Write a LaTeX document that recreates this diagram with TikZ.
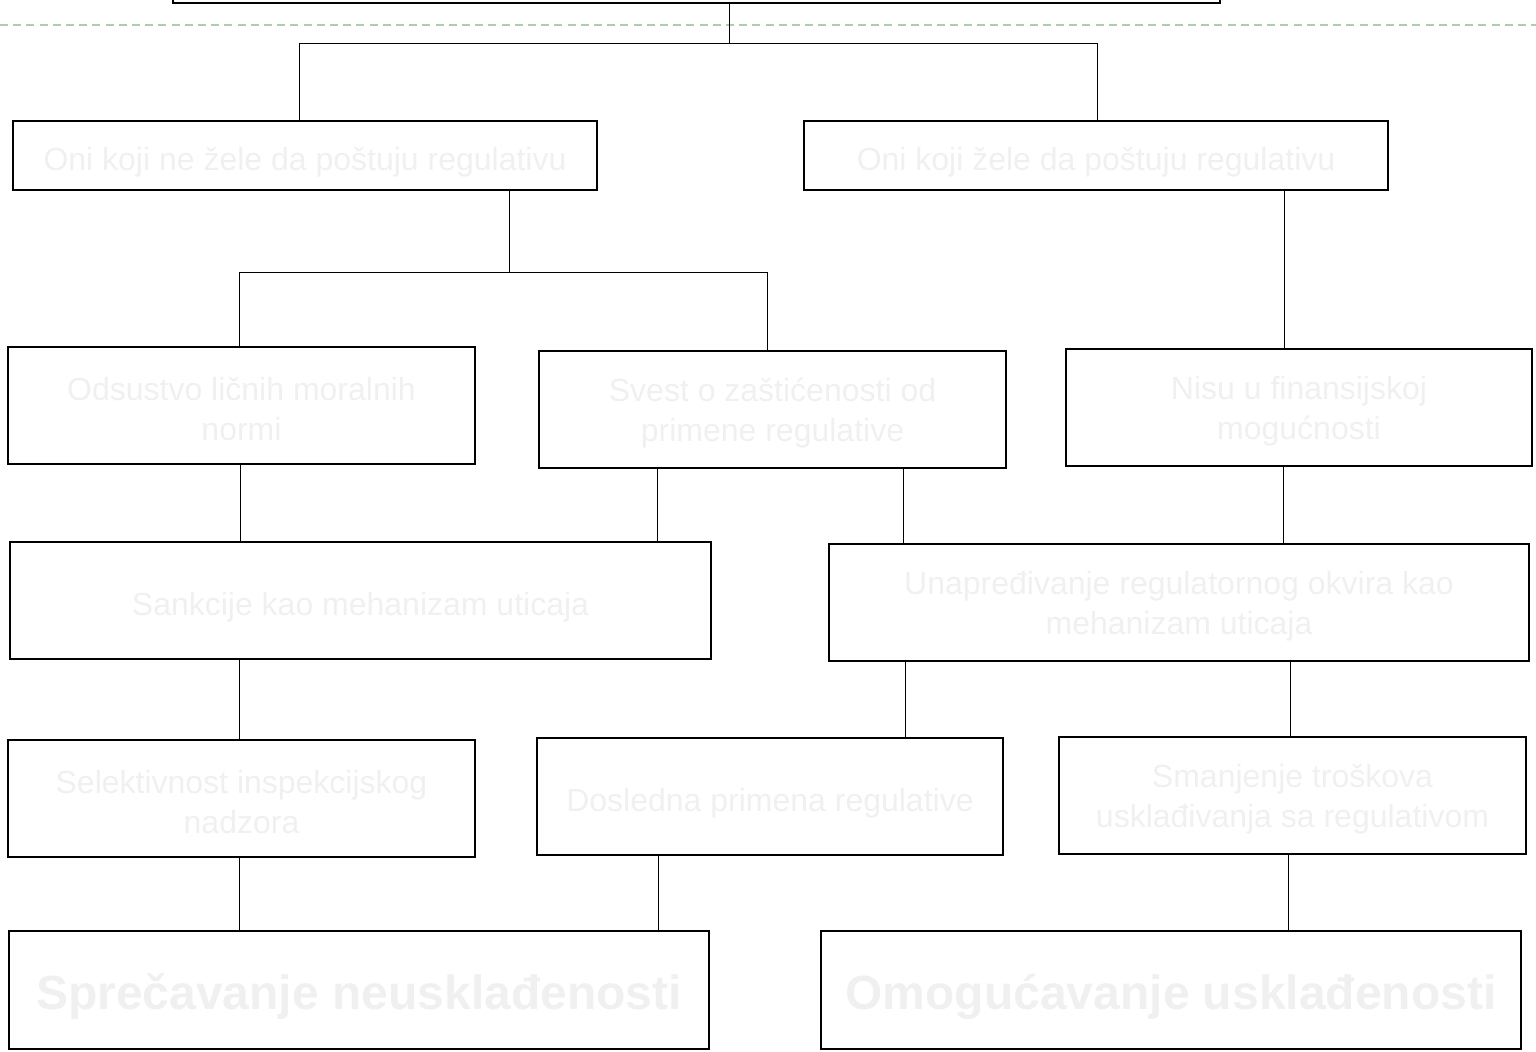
\documentclass[tikz,border=0pt]{standalone}
\usepackage{fontspec}
\setmainfont{Liberation Sans}
\definecolor{faint}{RGB}{240,240,240}
\definecolor{dashgreen}{RGB}{172,206,172}
\tikzset{
  box/.style={draw=black, line width=0.55pt, rectangle, inner sep=0pt},
  txt/.style={inner sep=0pt, align=center, text=faint, font=\fontsize{16}{20}\selectfont, yshift=-2pt},
  txtone/.style={txt, yshift=-1.5pt},
  bigtxt/.style={txt, font=\fontsize{24}{28}\selectfont\bfseries, yshift=-1.5pt},
  conn/.style={draw=black, line width=0.5pt},
}
\newcommand\bx[7][txt]{\node[box, minimum width={(#5-#3)*0.5pt}, minimum height={(#6-#4)*0.5pt}, label={[#1]center:{#7}}] (#2) at ({(#3+#5)/2},{(#4+#6)/2}) {};}
\begin{document}
\begin{tikzpicture}[x=0.5pt,y=-0.5pt]
\clip (0,0) rectangle (1536,1052);
\useasboundingbox (0,0) rectangle (1536,1052);
% dashed guide line
\draw[dashgreen, line width=1pt, dash pattern=on 4pt off 2.6pt] (0,25) -- (1536,25);
% boxes
\node[box, minimum width={1047*0.5pt}, minimum height={43*0.5pt}] (top) at (696.5,-18.5) {};
\bx[txtone]{Lna}{13}{121}{597}{190}{Oni koji ne žele da poštuju regulativu}
\bx[txtone]{Lnb}{804}{121}{1388}{190}{Oni koji žele da poštuju regulativu}
\bx{Mo}{8}{347}{475}{464}{Odsustvo ličnih moralnih\\normi}
\bx{Sv}{539}{351}{1006}{468}{Svest o zaštićenosti od\\primene regulative}
\bx{Ni}{1066}{349}{1532}{466}{Nisu u finansijskoj\\mogućnosti}
\bx[txtone]{Sa}{10}{542}{711}{659}{Sankcije kao mehanizam uticaja}
\bx{Un}{829}{544}{1529}{661}{Unapređivanje regulatornog okvira kao\\mehanizam uticaja}
\bx{Se}{8}{740}{475}{857}{Selektivnost inspekcijskog\\nadzora}
\bx[txtone]{Do}{537}{738}{1003}{855}{Dosledna primena regulative}
\bx{Sm}{1059}{737}{1526}{854}{Smanjenje troškova\\usklađivanja sa regulativom}
\bx[bigtxt]{Sp}{9}{931}{709}{1049}{Sprečavanje neusklađenosti}
\bx[bigtxt]{Om}{821}{931}{1521}{1049}{Omogućavanje usklađenosti}
% tree connectors
\coordinate (j1) at (729,44);
\coordinate (j2) at (509,273);
\draw[conn] (729,0 |- top.south) -- (j1);
\draw[conn] (299,0 |- Lna.north) -- (299,44) -- (1097,44) -- (1097,0 |- Lnb.north);
\draw[conn] (509,0 |- Lna.south) -- (j2);
\draw[conn] (239,0 |- Mo.north) -- (239,273) -- (767,273) -- (767,0 |- Sv.north);
\draw[conn] (1284,0 |- Lnb.south) -- (1284,0 |- Ni.north);
% level 2 -> 3
\draw[conn] (240,0 |- Mo.south) -- (240,0 |- Sa.north);
\draw[conn] (657,0 |- Sv.south) -- (657,0 |- Sa.north);
\draw[conn] (903,0 |- Sv.south) -- (903,0 |- Un.north);
\draw[conn] (1283,0 |- Ni.south) -- (1283,0 |- Un.north);
% level 3 -> 4
\draw[conn] (239,0 |- Sa.south) -- (239,0 |- Se.north);
\draw[conn] (905,0 |- Un.south) -- (905,0 |- Do.north);
\draw[conn] (1290,0 |- Un.south) -- (1290,0 |- Sm.north);
% level 4 -> 5
\draw[conn] (239,0 |- Se.south) -- (239,0 |- Sp.north);
\draw[conn] (658,0 |- Do.south) -- (658,0 |- Sp.north);
\draw[conn] (1288,0 |- Sm.south) -- (1288,0 |- Om.north);
\end{tikzpicture}
\end{document}
